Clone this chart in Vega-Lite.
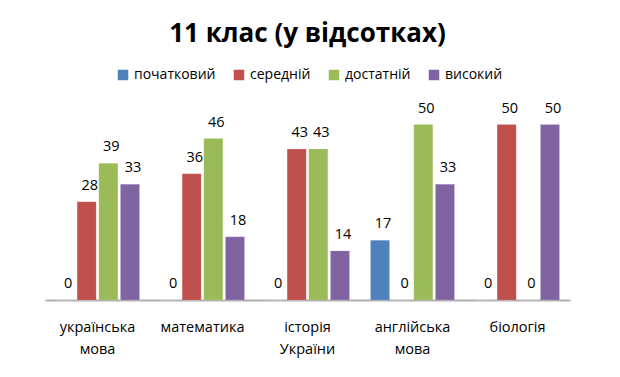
{
  "$schema": "https://vega.github.io/schema/vega-lite/v6.json",
  "width": 525,
  "height": 200,
  "autosize": "none",
  "padding": {"left": 45, "top": 100, "right": 50, "bottom": 77},
  "background": "white",
  "title": {"text": "11 клас (у відсотках)", "fontSize": 26, "font": "Open Sans", "fontWeight": "bold", "offset": 21, "anchor": "middle", "color": "black"},
  "config": {"view": {"stroke": null}, "font": "Open Sans"},
  "data": {"values": [
    {"subject": "українська мова", "level": "початковий", "value": 0},
    {"subject": "українська мова", "level": "середній", "value": 28},
    {"subject": "українська мова", "level": "достатній", "value": 39},
    {"subject": "українська мова", "level": "високий", "value": 33},
    {"subject": "математика", "level": "початковий", "value": 0},
    {"subject": "математика", "level": "середній", "value": 36},
    {"subject": "математика", "level": "достатній", "value": 46},
    {"subject": "математика", "level": "високий", "value": 18},
    {"subject": "історія України", "level": "початковий", "value": 0},
    {"subject": "історія України", "level": "середній", "value": 43},
    {"subject": "історія України", "level": "достатній", "value": 43},
    {"subject": "історія України", "level": "високий", "value": 14},
    {"subject": "англійська мова", "level": "початковий", "value": 17},
    {"subject": "англійська мова", "level": "середній", "value": 0},
    {"subject": "англійська мова", "level": "достатній", "value": 50},
    {"subject": "англійська мова", "level": "високий", "value": 33},
    {"subject": "біологія", "level": "початковий", "value": 0},
    {"subject": "біологія", "level": "середній", "value": 50},
    {"subject": "біологія", "level": "достатній", "value": 0},
    {"subject": "біологія", "level": "високий", "value": 50}
  ]},
  "encoding": {
    "x": {"field": "subject", "type": "nominal", "sort": ["українська мова", "математика", "історія України", "англійська мова", "біологія"],
      "scale": {"paddingInner": 0.2, "paddingOuter": 0.1},
      "axis": {"title": null, "labelAngle": 0, "labelFontSize": 14.5, "labelColor": "black", "labelPadding": 20, "ticks": false, "domainColor": "#b0b0b0", "domainWidth": 2, "labelExpr": "split(datum.label, ' ')", "labelLineHeight": 22}},
    "xOffset": {"field": "level", "type": "nominal", "sort": ["початковий", "середній", "достатній", "високий"], "scale": {"paddingInner": 0.12}},
    "y": {"field": "value", "type": "quantitative", "scale": {"domain": [0, 57], "nice": false}, "axis": null}
  },
  "layer": [
    {"mark": {"type": "bar", "stroke": "#ffffff", "strokeOpacity": 0.25, "strokeWidth": 0.5},
     "encoding": {"color": {"field": "level", "type": "nominal", "sort": ["початковий", "середній", "достатній", "високий"],
       "scale": {"domain": ["початковий", "середній", "достатній", "високий"], "range": ["#4F81BD", "#C0504D", "#9BBB59", "#8064A2"]},
       "legend": {"title": null, "orient": "none", "direction": "horizontal", "legendX": 71, "legendY": -32, "symbolType": "square", "symbolSize": 110, "symbolStrokeWidth": 0, "labelFontSize": 14, "labelColor": "black", "columnPadding": 16, "columns": 4}}}},
    {"mark": {"type": "text", "dy": -16, "dx": 3, "fontSize": 14.5, "color": "black"},
     "encoding": {"text": {"field": "value", "type": "quantitative"}}}
  ]
}
